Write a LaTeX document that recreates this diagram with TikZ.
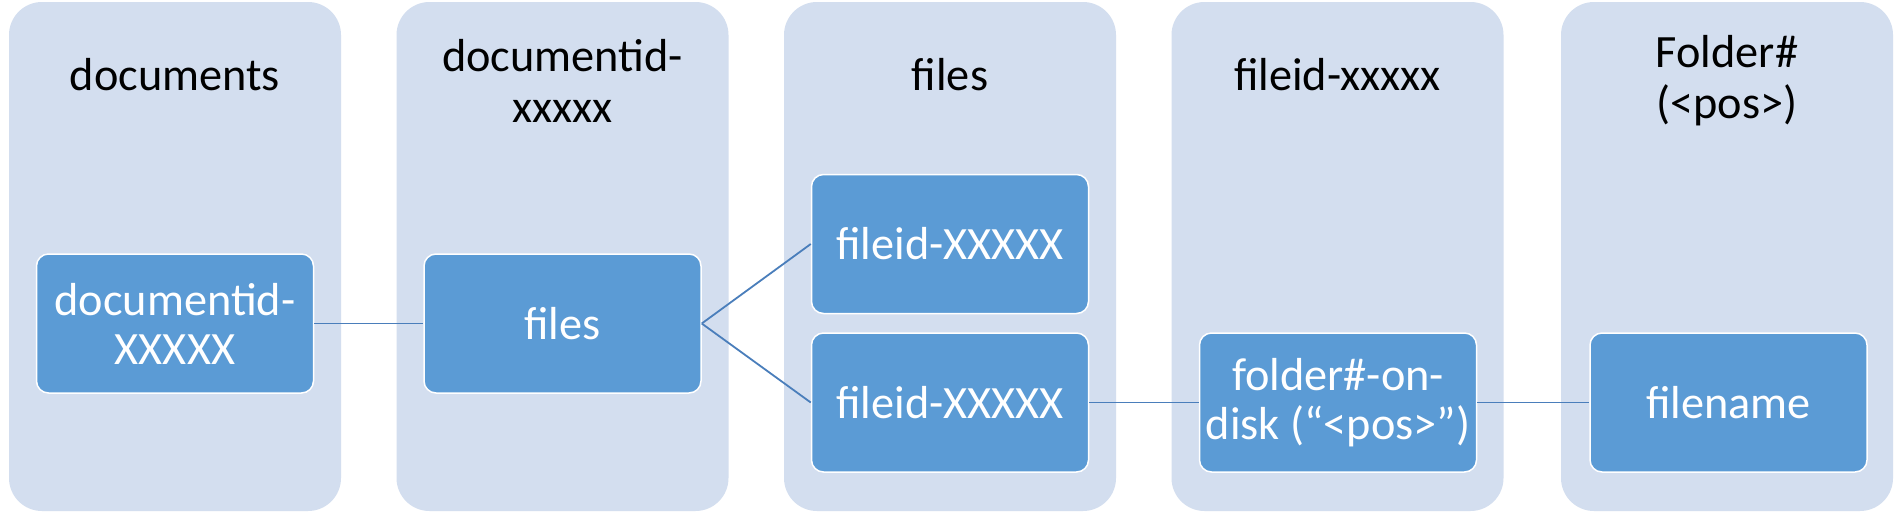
\documentclass[tikz,border=0pt]{standalone}
\usepackage{fontspec}
\setmainfont{Carlito}
\definecolor{colbg}{HTML}{D3DEEF}
\definecolor{itembg}{HTML}{5B9BD5}
\definecolor{linecol}{HTML}{4A7EBB}
\begin{document}
\begin{tikzpicture}[x=1pt,y=-1pt,
  column/.style={fill=colbg, draw=none, rounded corners=33pt, minimum width=332pt, minimum height=509pt, inner sep=0pt},
  item/.style={fill=itembg, draw=white, line width=1.5pt, rounded corners=12pt, text=white,
    font=\fontsize{46.3}{49}\selectfont, align=center, inner sep=0pt, minimum width=277pt, minimum height=139pt},
  title/.style={font=\fontsize{46.3}{51}\selectfont, align=center, text=black, inner sep=0pt},
  link/.style={draw=linecol, line width=1.8pt}]
\useasboundingbox (0,0) rectangle (1897,512);
\fill[white] (0,0) rectangle (1897,512);
% columns
\node[column] (c1) at (175,256.5) {};
\node[column] (c2) at (562.5,256.5) {};
\node[column] (c3) at (950,256.5) {};
\node[column] (c4) at (1337.5,256.5) {};
\node[column] (c5) at (1727,256.5) {};
% titles
\node[title, anchor=base] (t1) at (175,90) {documents};
\node[title] (t2) at (562.5,81) {documentid-\\xxxxx};
\node[title, anchor=base] (t3) at (950,90) {files};
\node[title, anchor=base] (t4) at (1337.5,90) {fileid-xxxxx};
\node[title] (t5) at (1727,81) {Folder\#\\(<pos>)};
% items
\node[item] (d1) at (175,323.5) {documentid-\\XXXXX};
\node[item] (f2) at (562.5,323.5) {files};
\node[item] (fa) at (950,244) {fileid-XXXXX};
\node[item] (fb) at (950,402.5) {fileid-XXXXX};
\node[item] (fod) at (1338,402.5) {folder\#-on-\\disk (“<pos>”)};
\node[item] (fn) at (1728.5,402.5) {filename};
% links
\draw[link] (d1.east) -- (f2.west);
\draw[link] (f2.east) -- (fa.west);
\draw[link] (f2.east) -- (fb.west);
\draw[link] (fb.east) -- (fod.west);
\draw[link] (fod.east) -- (fn.west);
\end{tikzpicture}
\end{document}
